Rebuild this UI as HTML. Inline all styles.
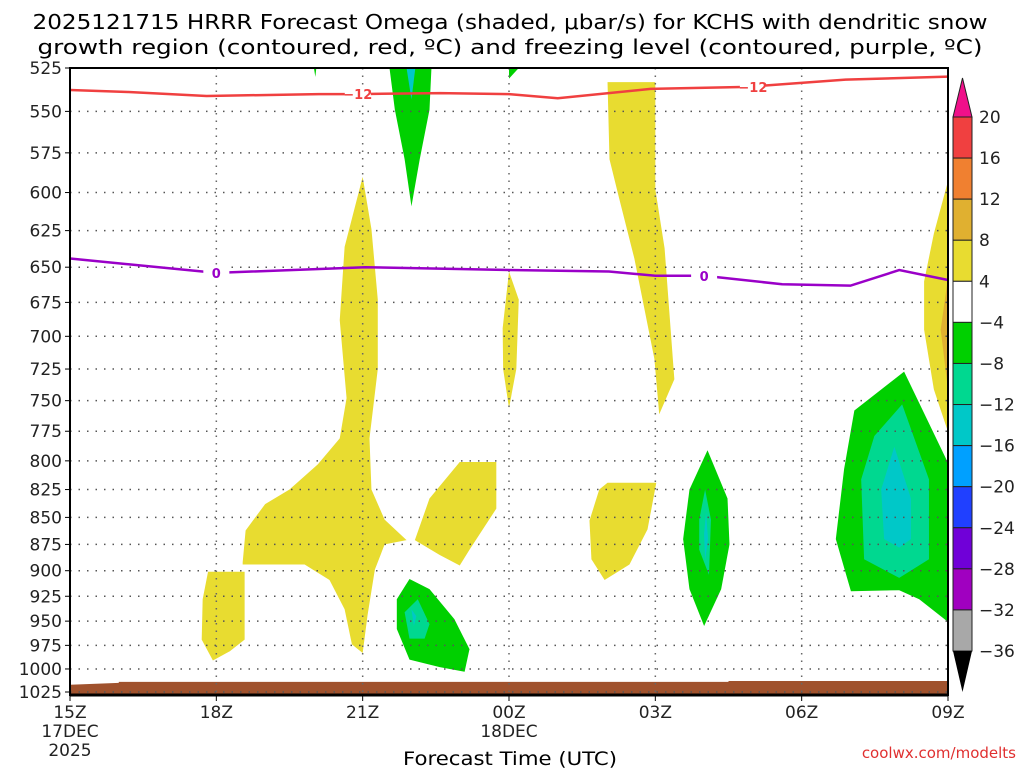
<!DOCTYPE html>
<html><head><meta charset="utf-8"><style>
body{margin:0;background:#fff;width:1024px;height:768px;overflow:hidden}
svg text{font-family:"DejaVu Sans","Liberation Sans",sans-serif}
</style></head><body>
<svg id="c" width="1024" height="768" xmlns="http://www.w3.org/2000/svg">
<text x="510" y="29" font-size="20" text-anchor="middle" textLength="955" lengthAdjust="spacingAndGlyphs">2025121715 HRRR Forecast Omega (shaded, μbar/s) for KCHS with dendritic snow</text>
<text x="510" y="54" font-size="20" text-anchor="middle" textLength="945" lengthAdjust="spacingAndGlyphs">growth region (contoured, red, ºC) and freezing level (contoured, purple, ºC)</text>
<g id="plot"></g>
<text x="510" y="765" font-size="19" text-anchor="middle" textLength="214" lengthAdjust="spacingAndGlyphs">Forecast Time (UTC)</text>
<text x="1016" y="758" font-size="15" fill="#e03030" text-anchor="end">coolwx.com/modelts</text>
</svg>
<script>
const pTicks=[525,550,575,600,625,650,675,700,725,750,775,800,825,850,875,900,925,950,975,1000,1025];
const xTickHours=[0,3,6,9,12,15,18];
const xTickLabels=["15Z","18Z","21Z","00Z","03Z","06Z","09Z"];
const cbLevels=[20,16,12,8,4,-4,-8,-12,-16,-20,-24,-28,-32,-36];
const cbColors=["#f04040","#f08030","#e0b030","#e8dc30","#ffffff","#00d000","#00d890","#00c8c8","#00a0ff","#2040ff","#7000d8","#a000c0","#a8a8a8"];
const yellowAreas=[
[[3.54,892],[3.6,862],[4.0,838],[4.5,825],[5.08,803],[5.53,781],[5.67,748],[5.53,688],[5.63,636],[6.0,590],[6.18,624],[6.31,673],[6.31,725],[6.14,781],[6.18,825],[6.45,852],[6.9,871],[6.45,875],[6.25,899],[6.1,944],[6.0,983],[5.78,974],[5.63,938],[5.32,909],[4.81,894],[3.54,894]],
[[2.72,928],[2.83,901],[3.58,901],[3.58,969],[3.28,981],[2.93,991],[2.7,969]],
[[7.07,871],[7.37,833],[7.99,801],[8.74,801],[8.74,842],[8.19,880],[7.99,895],[7.58,885]],
[[8.87,694],[9.0,653],[9.2,673],[9.15,725],[9.0,756],[8.88,725]],
[[11.02,533],[12.0,533],[12.0,598],[12.19,637],[12.39,733],[12.08,761],[11.98,717],[11.57,644],[11.26,604],[11.06,579]],
[[10.85,825],[11.02,819],[12.02,819],[11.84,861],[11.47,894],[10.96,909],[10.69,889],[10.65,853]],
[[17.98,595],[17.98,773],[17.71,741],[17.51,695],[17.51,660],[17.71,627]]];
const orangeAreas=[[[17.98,662],[17.85,695],[17.98,735]]];
const greenAreas=[
[[6.55,525],[7.41,525],[7.37,549],[7.17,579],[7.0,609],[6.86,579],[6.66,549]],
[[6.7,928],[6.96,908],[7.37,918],[7.88,948],[8.19,979],[8.09,1003],[7.58,998],[6.96,990],[6.7,958]],
[[13.07,791],[13.48,833],[13.52,875],[13.35,918],[13.0,955],[12.7,918],[12.57,870],[12.7,825]],
[[17.1,727],[17.98,800],[17.98,950],[17.41,928],[17.0,919],[16.01,920],[15.7,870],[15.87,807],[16.08,758]],
[[5.0,525],[5.05,525],[5.03,530]],[[9.0,525],[9.2,525],[9.0,531]]];
const tealAreas=[
[[6.86,941],[7.13,928],[7.37,953],[7.27,968],[6.96,968]],
[[13.02,825],[13.14,852],[13.1,904],[12.9,880],[12.9,852]],
[[17.06,753],[17.61,816],[17.61,889],[17.0,907],[16.28,889],[16.22,816],[16.49,779]]];
const cyanAreas=[
[[6.9,525],[7.08,525],[7.0,543]],
[[7.0,938],[7.1,945],[7.05,955]],
[[13.04,845],[13.08,870],[13.02,890],[13.0,865]],
[[16.9,788],[17.24,833],[17.24,870],[17.0,878],[16.69,870],[16.63,825]]];
const groundArea=[[0,1017],[1,1015],[1,1014],[13.5,1014],[13.5,1013],[18,1013],[18,1030],[0,1030]];
const snowLineHours=[0,1.2,2.8,5.1,5.9,7.6,9.0,10.0,11.9,13.9,15.9,18];
const snowLineP=[537.5,538.7,541,539.9,539.9,539.3,539.9,542.3,536.9,535.7,531.6,529.9];
const frzLineHours=[0,3,6.05,9,11.05,12,13,14.6,16,17,18];
const frzLineP=[644,654,650,652,653,656,656,662,663,652,659];
const L=70,R=948,T=68,B=692;
const X=h=>L+h*(R-L)/18;
const Y=p=>T+(B-T)*Math.log(p/525)/Math.log(1025/525);
const NS="http://www.w3.org/2000/svg";
const g=document.getElementById('plot');
function mk(tag,at,parent){const e=document.createElementNS(NS,tag);for(const k in at)e.setAttribute(k,at[k]);(parent||g).appendChild(e);return e;}
function poly(pts,fill){return mk('polygon',{points:pts.map(q=>X(q[0])+','+Y(q[1])).join(' '),fill:fill});}
mk('rect',{x:L,y:T,width:R-L,height:B-T+3,fill:'#fff'});
function drawSet(arr,col,name){arr.forEach(a=>{const e=poly(a,col);

});}
drawSet(yellowAreas,'#e8dc30','omega-yellow-area');
drawSet(orangeAreas,'#e0b030','omega-orange-area');
drawSet(greenAreas,'#00d000','omega-green-area');
drawSet(tealAreas,'#00d890','omega-teal-area');
drawSet(cyanAreas,'#00c8c8','omega-cyan-area');
const gr=poly(groundArea,'#a0522d');


pTicks.forEach((p,i)=>{const y=Y(p);
const ln=mk('line',{x1:L,x2:R,y1:y,y2:y,stroke:'#555','stroke-width':1.5,'stroke-dasharray':'1.5 7'});


mk('line',{x1:L-5,x2:L,y1:y,y2:y,stroke:'#000'});
const t=mk('text',{x:L-8,y:y+6,'font-size':17,'text-anchor':'end',fill:'#222'});t.textContent=p;

});
xTickHours.forEach((h,i)=>{const x=X(h);
if(i>0&&i<xTickHours.length-1){const ln=mk('line',{x1:x,x2:x,y1:T,y2:B,stroke:'#666','stroke-width':1.5,'stroke-dasharray':'1.5 6'});

}
mk('line',{x1:x,x2:x,y1:B+3,y2:B+9,stroke:'#000'});
const t=mk('text',{x:x,y:718,'font-size':17,'text-anchor':'middle',fill:'#222'});t.textContent=xTickLabels[i];

});
[["17DEC",X(0),737],["2025",X(0),756],["18DEC",X(9),737]].forEach(a=>{const t=mk('text',{x:a[1],y:a[2],'font-size':17,'text-anchor':'middle',fill:'#222'});t.textContent=a[0];

});
function line(hs,ps,col,name){const e=mk('polyline',{points:hs.map((h,i)=>X(h)+','+Y(ps[i])).join(' '),fill:'none',stroke:col,'stroke-width':2.5});

}
line(snowLineHours,snowLineP,'#f04040','dgz-minus12-contour');
line(frzLineHours,frzLineP,'#9a00c8','freezing-level-contour');
function lab(h,p,txt,col){const x=X(h),y=Y(p);mk('rect',{x:x-13,y:y-8,width:26,height:16,fill:'#fff'});
const t=mk('text',{x:x,y:y+5,'font-size':13,'font-weight':'bold','text-anchor':'middle',fill:col});t.textContent=txt;

}
lab(5.9,539.9,'−12','#f04040');lab(14.0,535.7,'−12','#f04040');
lab(3,654,'0','#9a00c8');lab(13,656,'0','#9a00c8');
const fr=mk('rect',{x:L,y:T,width:R-L,height:B-T+3,fill:'none',stroke:'#000','stroke-width':2});


mk('line',{x1:L,x2:R,y1:B+3,y2:B+3,stroke:'#000','stroke-width':3});
const cx=953,cw=19,cTop=117,step=(651-117)/13;
const tp=mk('polygon',{points:`${cx},${cTop} ${cx+cw},${cTop} ${cx+cw/2},78`,fill:'#f0108a',stroke:'#222'});


cbColors.forEach((c,i)=>{const r=mk('rect',{x:cx,y:cTop+i*step,width:cw,height:step,fill:c,stroke:'#222','stroke-width':1});

});
const bp=mk('polygon',{points:`${cx},651 ${cx+cw},651 ${cx+cw/2},692`,fill:'#000'});


cbLevels.forEach((v,i)=>{const t=mk('text',{x:cx+26,y:cTop+i*step+6,'font-size':17,fill:'#222'});t.textContent=v<0?'−'+(-v):v;

});
</script>
</body></html>
